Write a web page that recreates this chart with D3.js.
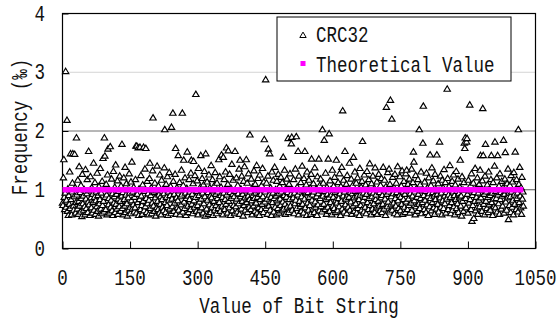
<!DOCTYPE html>
<html>
  <meta charset="utf-8" />
  <script src="https://d3js.org/d3.v7.min.js"></script>
  <style>
    body { margin: 0; background: #fff; }
    text { font-family: "Liberation Mono", "DejaVu Sans Mono", monospace; fill: #111; }
  </style>
  <body>
    <svg id="chart" width="557" height="320"></svg>
    <script>
      // CRC32 frequency per bit-string value, in hundredths of a per-mille
      // values 0..255
      const crcA = [
        78,74,121,152,88,67,95,302,71,83,219,64,102,57,91,76,131,69,162,84,58,97,112,162,73,66,89,161,104,61,79,189,
        92,68,117,59,81,140,73,96,63,108,86,55,127,77,90,66,101,72,58,135,85,69,94,118,62,80,166,75,99,57,123,87,
        70,104,61,93,79,146,66,88,113,59,82,97,72,129,64,91,56,106,77,84,137,68,95,60,115,74,154,81,63,189,158,88,
        67,110,92,58,126,170,75,86,61,99,174,71,83,119,65,94,57,132,78,89,105,62,143,76,93,68,116,59,85,98,72,124,
        81,64,107,90,178,69,96,58,121,84,73,139,62,92,111,77,56,100,87,66,128,95,71,60,114,82,148,68,97,75,105,63,
        88,70,118,175,61,175,93,79,172,57,102,84,173,67,125,90,74,59,109,81,173,65,98,136,72,171,86,62,115,77,94,58,
        83,120,146,69,91,104,60,78,133,223,73,96,64,112,87,56,99,70,141,81,67,107,92,61,126,76,89,58,117,84,71,101,
        65,94,138,203,79,62,110,88,74,123,57,97,83,130,68,91,106,60,207,85,72,231,115,64,93,78,127,171,59,87,104,70
      ];
      // values 256..511
      const crcB = [
        82,159,66,99,113,58,89,75,134,92,231,63,108,151,80,69,121,95,57,86,103,165,73,90,62,118,84,97,67,129,151,76,
        93,60,111,149,82,71,125,88,263,64,98,116,74,58,137,91,80,66,105,159,85,70,120,95,61,109,77,132,89,56,162,101,
        68,114,83,96,59,126,75,104,90,62,142,87,71,118,57,99,81,108,66,130,93,74,60,112,86,97,69,152,79,123,64,91,
        105,160,73,88,58,156,95,118,67,84,131,76,172,92,61,110,167,81,70,127,96,57,103,86,144,65,93,117,74,89,60,166,
        98,72,121,85,63,108,94,77,136,59,151,89,102,68,124,81,93,56,115,74,140,87,66,99,152,79,112,62,90,128,71,84,
        194,97,67,119,82,58,105,91,73,133,86,64,110,95,78,142,61,88,120,70,99,57,126,84,93,67,108,76,137,89,62,114,
        186,80,97,288,69,112,85,59,124,170,73,92,162,66,104,88,57,131,79,95,117,63,86,139,71,101,90,58,115,82,69,127,
        94,61,107,85,74,122,97,65,113,80,156,68,91,134,76,59,103,88,119,71,96,188,62,110,84,128,73,93,179,190,66,100
      ];
      // values 512..767
      const crcC = [
        87,118,60,95,77,136,83,191,69,105,92,166,58,124,81,97,72,113,64,89,141,76,100,61,120,85,166,70,94,109,57,131,
        78,96,66,117,88,74,104,59,127,153,83,92,68,111,97,62,138,80,71,102,89,57,123,75,94,153,65,108,86,119,72,99,
        63,203,90,112,76,185,98,67,129,84,59,105,93,71,153,87,196,64,116,79,101,92,58,134,73,88,107,69,122,96,62,83,
        151,78,99,65,113,86,72,128,94,57,106,81,139,68,235,90,117,63,97,166,75,85,110,60,125,92,71,103,88,146,66,96,
        80,119,59,94,108,73,156,87,64,131,98,77,112,61,90,121,69,100,84,57,137,92,74,105,66,115,183,82,95,63,126,88,
        71,109,60,93,132,79,102,67,118,86,145,74,97,58,111,89,68,124,95,77,103,62,138,84,92,70,114,59,99,81,127,73,
        96,65,108,87,120,62,91,76,139,101,68,117,85,57,106,241,93,72,130,80,97,136,63,110,253,75,89,221,66,122,94,78,
        104,60,127,86,73,112,96,58,140,82,69,101,91,123,65,88,107,76,133,59,97,84,115,71,93,62,128,80,134,99,67,110
      ];
      // values 768..1023
      const crcD = [
        85,74,119,61,94,105,78,136,66,90,113,165,148,82,97,58,125,72,103,88,64,118,93,76,203,69,109,86,131,60,99,79,
        180,243,91,67,114,83,98,62,129,75,104,89,57,121,94,72,160,86,108,65,138,79,96,116,70,90,59,127,84,101,68,160,
        93,76,111,63,99,182,87,124,71,95,58,117,82,104,69,135,90,77,113,61,96,85,272,120,67,92,106,74,142,88,60,101,
        79,115,66,97,126,72,91,58,109,84,132,69,98,77,119,62,94,87,105,151,73,90,56,123,81,100,64,113,180,171,189,86,
        70,182,188,93,61,117,78,99,245,84,108,67,128,47,91,74,112,52,96,81,137,65,103,88,70,121,59,95,83,110,72,134,
        159,87,100,64,116,239,159,76,93,58,124,178,81,97,69,109,88,62,131,75,102,91,66,118,159,79,95,57,113,85,72,141,
        182,70,98,86,121,63,159,92,77,107,59,128,84,96,68,115,90,73,104,185,61,93,119,164,80,99,66,111,87,136,50,95,
        74,108,89,62,125,97,71,114,83,58,130,92,76,165,101,67,118,86,95,63,203,110,79,139,90,70,104,59,122,85,97,73
      ];
      const theoryX = [0, 1023];
      const theoryY = [1, 1];
      const xTicks = [0, 150, 300, 450, 600, 750, 900, 1050];
      const yTicks = [0, 1, 2, 3, 4];

      const crc = crcA.concat(crcB, crcC, crcD).map((v, i) => ({ x: i, y: v / 100 }));

      const svg = d3.select("#chart");
      const plotLeft = 62.5, plotRight = 535.5, plotTop = 13.5, plotBottom = 248.5;

      const x = d3.scaleLinear().domain([0, 1050]).range([plotLeft, plotRight]);
      const y = d3.scaleLinear().domain([0, 4]).range([plotBottom, plotTop]);

      // text is a little taller than the mono font, stretch it
      function label(g, tx, ty, str, anchor, size, rot) {
        return g.append("text")
          .attr("transform", `translate(${tx},${ty})` + (rot ? " rotate(-90)" : "") + " scale(1,1.22)")
          .attr("text-anchor", anchor)
          .attr("font-size", size)
          .text(str);
      }

      // gridlines
      const gridColor = { 1: "#555", 2: "#6e6e6e", 3: "#d4d4d4" };
      svg.append("g")
        .selectAll("line")
        .data([1, 2, 3])
        .enter()
        .append("line")
        .attr("x1", plotLeft).attr("x2", plotRight)
        .attr("y1", (d) => y(d)).attr("y2", (d) => y(d))
        .attr("stroke", (d) => gridColor[d])
        .attr("stroke-width", 1);

      // frame
      svg.append("rect")
        .attr("x", plotLeft).attr("y", plotTop)
        .attr("width", plotRight - plotLeft).attr("height", plotBottom - plotTop)
        .attr("fill", "none").attr("stroke", "#000").attr("stroke-width", 1.2);

      // axes (ticks pointing inward)
      svg.append("g")
        .attr("transform", `translate(0,${plotBottom})`)
        .call(d3.axisBottom(x).tickValues(xTicks).tickSize(-7).tickFormat(""))
        .call((g) => g.select(".domain").remove())
        .call((g) => g.selectAll(".tick line").attr("stroke", "#000"));
      svg.append("g")
        .attr("transform", `translate(${plotLeft},0)`)
        .call(d3.axisLeft(y).tickValues(yTicks).tickSize(-6).tickFormat(""))
        .call((g) => g.select(".domain").remove())
        .call((g) => g.selectAll(".tick line").attr("stroke", "#000"));

      const tickText = svg.append("g");
      xTicks.forEach((d) => label(tickText, x(d), 285, d, "middle", 17.5));
      yTicks.forEach((d) => label(tickText, 45, y(d) + 7, d, "end", 17.5));

      // CRC32 triangles
      const tri = "M0,-2.9L3.2,2.5L-3.2,2.5Z";
      svg.append("g")
        .selectAll("path")
        .data(crc)
        .enter()
        .append("path")
        .attr("d", tri)
        .attr("transform", (d) => `translate(${x(d.x)},${y(d.y)})`)
        .attr("fill", "#fff")
        .attr("stroke", "#000")
        .attr("stroke-width", 1.15);

      // theoretical value
      svg.append("line")
        .attr("x1", x(theoryX[0])).attr("x2", x(theoryX[1]))
        .attr("y1", y(theoryY[0])).attr("y2", y(theoryY[1]))
        .attr("stroke", "#ff00ff")
        .attr("stroke-width", 5.5);

      // axis titles
      label(svg, (plotLeft + plotRight) / 2, 313, "Value of Bit String", "middle", 17.5);
      label(svg, 26.5, 127, "Frequency (‰)", "middle", 17.5, true);

      // legend
      const legend = svg.append("g");
      legend.append("rect")
        .attr("x", 277).attr("y", 17)
        .attr("width", 234).attr("height", 64)
        .attr("fill", "#fff").attr("stroke", "#000").attr("stroke-width", 1);
      legend.append("path")
        .attr("d", tri)
        .attr("transform", "translate(303,35)")
        .attr("fill", "#fff").attr("stroke", "#000");
      legend.append("rect")
        .attr("x", 300.5).attr("y", 61).attr("width", 5).attr("height", 5)
        .attr("fill", "#ff00ff");
      label(legend, 316, 41.5, "CRC32", "start", 17.5);
      label(legend, 316, 71.5, "Theoretical Value", "start", 17.5);
    </script>
  </body>
</html>
